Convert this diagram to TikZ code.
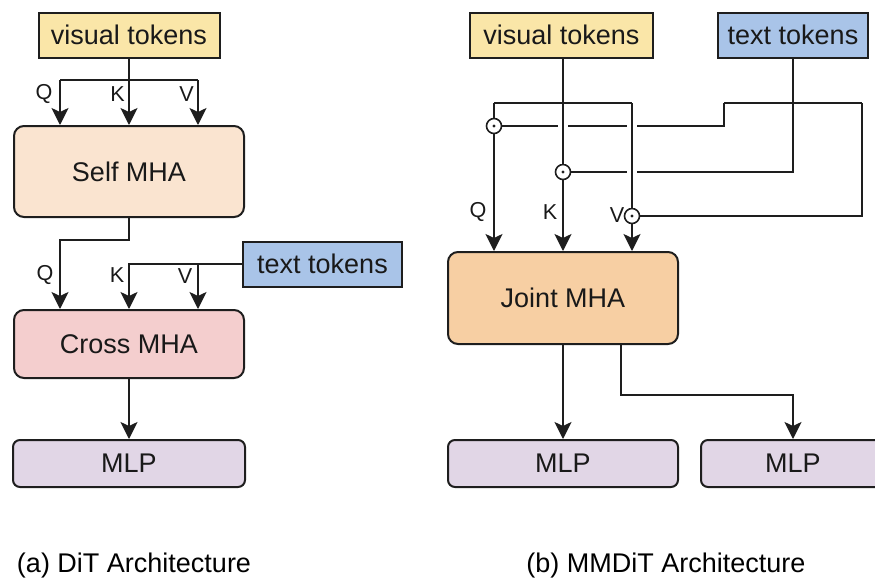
\documentclass[tikz,border=0pt]{standalone}
\usepackage{fontspec}
\setmainfont{Liberation Sans}
\usetikzlibrary{arrows.meta}

\definecolor{viscol}{RGB}{250,230,168}
\definecolor{txtcol}{RGB}{169,196,232}
\definecolor{selfcol}{RGB}{250,228,208}
\definecolor{crosscol}{RGB}{244,206,206}
\definecolor{jointcol}{RGB}{247,207,163}
\definecolor{mlpcol}{RGB}{225,214,230}
\definecolor{edgecol}{RGB}{30,30,30}

\begin{document}
\begin{tikzpicture}[
	x=0.5pt, y=-0.5pt,
	line width=1pt, draw=edgecol,
	>={Stealth[length=8.5pt,width=8.5pt,inset=2pt]},
	box/.style={ draw=edgecol, line width=1pt, inner sep=0pt, text=black!90, font=\fontsize{13.5}{16}\selectfont },
	tokbox/.style={ box, minimum height=22.5pt },
	mha/.style={ box, rounded corners=5pt, minimum width=115pt },
	mlp/.style={ box, rounded corners=3.5pt, fill=mlpcol, minimum height=23.5pt },
	qkv/.style={ inner sep=0pt, text=black!90, font=\fontsize{10.8}{12}\selectfont },
	dotc/.style={ circle, draw=edgecol, line width=0.8pt, fill=white, inner sep=0pt, minimum size=7.5pt,
		path picture={\fill[edgecol] (path picture bounding box.center) circle (0.8pt);} },
	over/.style={ preaction={draw=white, line width=5pt} }
]
\useasboundingbox (0,0) rectangle (875,580);

% (a) DiT
\node at (129,35) (visL) [tokbox,fill=viscol,minimum width=90.5pt] {visual tokens};
\node at (129,171.5) (self) [mha,fill=selfcol,minimum height=45.5pt] {Self MHA};
\node at (322.5,264) (txtL) [tokbox,fill=txtcol,minimum width=79.5pt] {text tokens};
\node at (129,344) (cross) [mha,fill=crosscol,minimum height=34pt] {Cross MHA};
\node at (129,463.5) (mlpL) [mlp,minimum width=116pt] {MLP};

\coordinate (kaL) at (129,80);
\coordinate (qaL) at (60,80);
\coordinate (vaL) at (198,80);
\coordinate (sb) at (129,240);
\coordinate (qbL) at (60,240);
\coordinate (vbL) at (198,264);

\draw (visL.south) -- (kaL);
\draw (qaL) -- (vaL);
\draw[->] (qaL) -- (qaL |- self.north);
\draw[->] (kaL) -- (kaL |- self.north);
\draw[->] (vaL) -- (vaL |- self.north);
\draw[->] (self.south) -- (sb) -- (qbL) -- (qbL |- cross.north);
\draw[->] (txtL.west) -| (cross.north);
\draw[->] (vbL) -- (vbL |- cross.north);
\draw[->] (cross) -- (mlpL);

\node at (44,94) (q1) [qkv] {Q};
\node at (117.5,94) (k1) [qkv] {K};
\node at (186.5,94) (v1) [qkv] {V};
\node at (45,275) (q2) [qkv] {Q};
\node at (117,275) (k2) [qkv] {K};
\node at (185,276) (v2) [qkv] {V};

% (b) MMDiT
\node at (561.5,35) (visR) [tokbox,fill=viscol,minimum width=91.5pt] {visual tokens};
\node at (793,35) (txtR) [tokbox,fill=txtcol,minimum width=75pt] {text tokens};
\node at (563,298) (joint) [mha,fill=jointcol,minimum height=46pt] {Joint MHA};
\node at (563,463.5) (mlpR) [mlp,minimum width=115pt] {MLP};
\node at (793,463.5) (mlpT) [mlp,minimum width=92pt] {MLP};

\node at (494,126) (qc) [dotc] {};
\node at (563,172) (kc) [dotc] {};
\node at (632,216) (vc) [dotc] {};

\coordinate (kaR) at (563,103);
\coordinate (qaR) at (494,103);
\coordinate (vaR) at (632,103);
\coordinate (qtR) at (724,103);
\coordinate (vtR) at (862,103);

\draw (qtR) -- (vtR);
\draw (qtR) |- (qc);
\draw (txtR.south) |- (kc);
\draw (vtR) |- (vc);
\draw[over] (kaR) -- (kc);
\draw[over] (vaR) -- (vc);
\draw (qaR) -- (qc);
\draw (kaR |- visR.south) -- (kaR);
\draw (qaR) -- (vaR);
\draw[->] (qc) -- (qc |- joint.north);
\draw[->] (kc) -- (kc |- joint.north);
\draw[->] (vc) -- (vc |- joint.north);
\draw[->] (joint) -- (mlpR);
\draw[->] ([xshift=29pt]joint.south) -- ++(0,50) -| (mlpT.north);

\node at (478,212) (q3) [qkv] {Q};
\node at (550,212) (k3) [qkv] {K};
\node at (617,215) (v3) [qkv] {V};

\node at (16,566) (capa) [anchor=west,inner sep=0pt,font=\fontsize{13.5}{16}\selectfont] {(a) DiT Architecture};
\node at (666,566) (capb) [inner sep=0pt,font=\fontsize{13.5}{16}\selectfont] {(b) MMDiT Architecture};
\end{tikzpicture}
\end{document}
